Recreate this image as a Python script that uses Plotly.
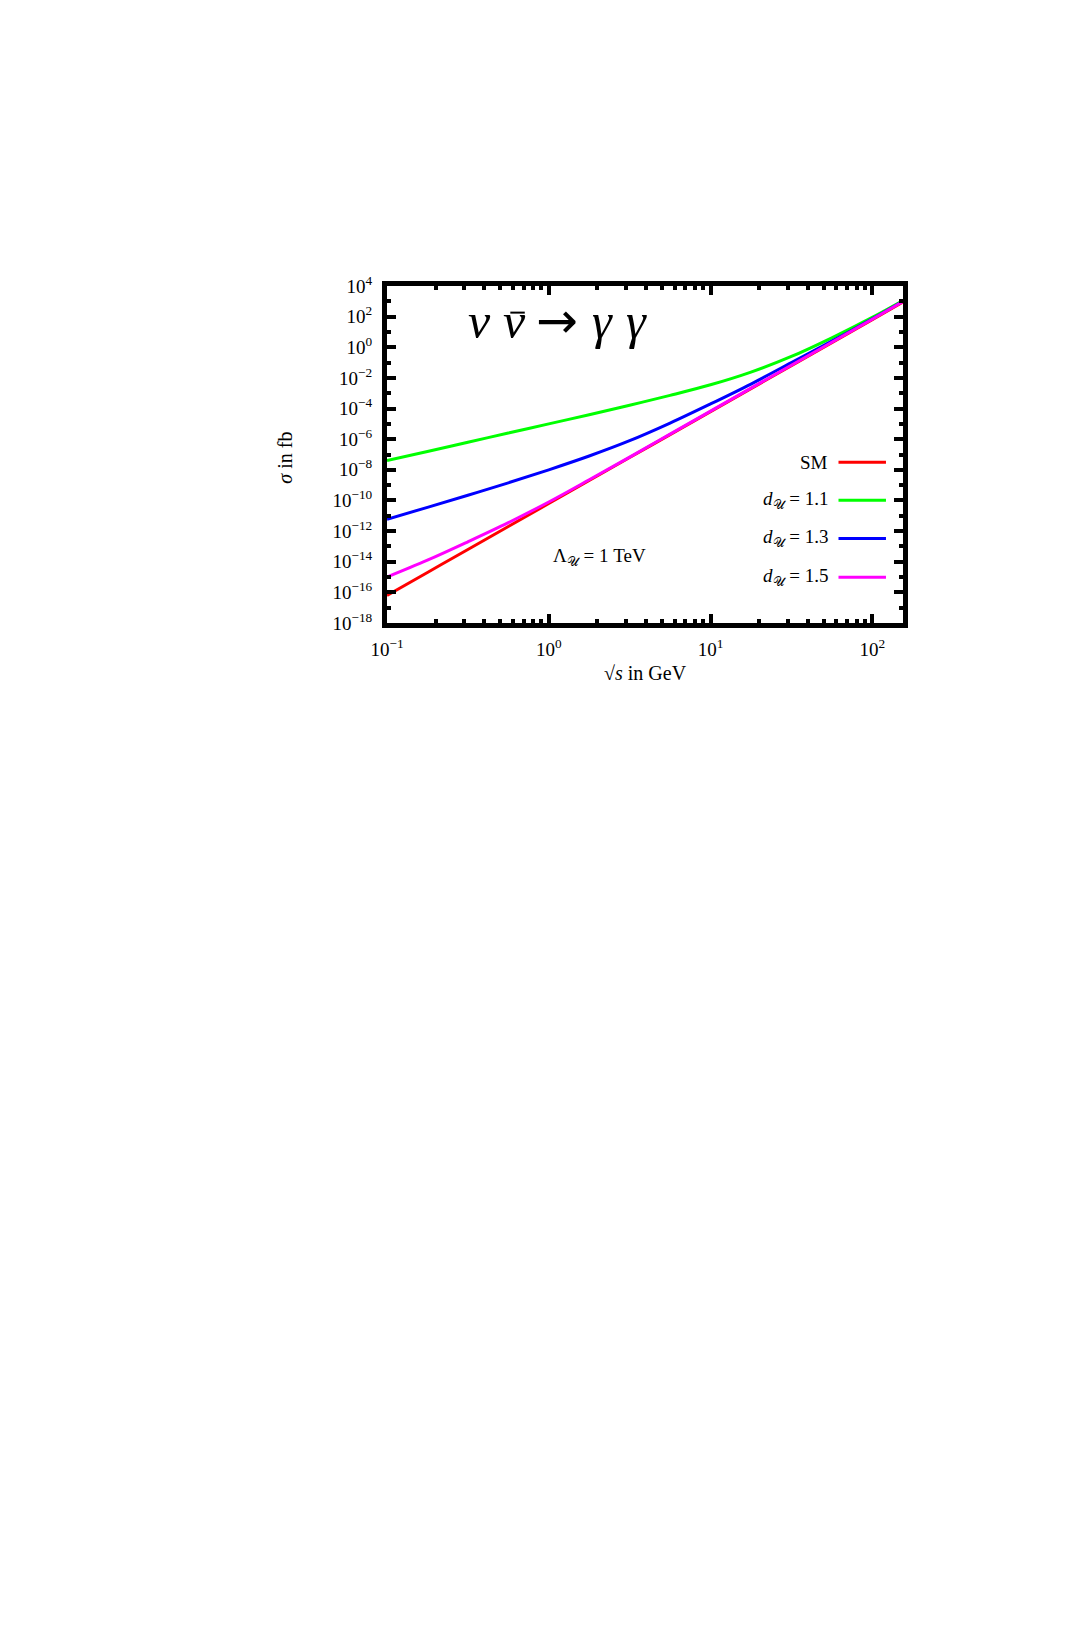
import numpy as np
import plotly.graph_objects as go

# sqrt(s) grid as log10(GeV), cross sections as log10(fb)
log_sqrt_s = [-1.0, -0.75, -0.5, -0.25, 0.0, 0.25, 0.5, 0.75, 1.0, 1.25, 1.5, 1.75, 2.0, 2.19]
log_sigma_sm = [-16.2, -14.7, -13.2, -11.7, -10.2, -8.7, -7.2, -5.7, -4.2, -2.7, -1.2, 0.3, 1.8, 2.95]
log_sigma_d11 = [-7.39, -6.8, -6.2, -5.6, -5.0, -4.4, -3.78, -3.14, -2.45, -1.62, -0.6, 0.62, 1.95, 3.05]
log_sigma_d13 = [-11.23, -10.45, -9.66, -8.85, -8.0, -7.1, -6.1, -4.95, -3.7, -2.4, -1.0, 0.4, 1.85, 3.0]
log_sigma_d15 = [-15.0, -13.9, -12.7, -11.45, -10.1, -8.65, -7.17, -5.67, -4.17, -2.67, -1.17, 0.33, 1.83, 2.98]

series_names = ["SM", "<i>d</i><sub>𝒰</sub> = 1.1", "<i>d</i><sub>𝒰</sub> = 1.3", "<i>d</i><sub>𝒰</sub> = 1.5"]
series_colors = ["#ff0000", "#00ff00", "#0000ff", "#ff00ff"]

x_major = [-1, 0, 1, 2]
x_minor_digits = [2, 3, 4, 5, 6, 7, 8, 9]
y_major = list(range(-18, 5, 2))
y_minor = list(range(-17, 4, 2))

# process label, one glyph at a time: (text, font, size, x position in paper units)
process_glyphs = [("<i>ν</i>", "Liberation Serif", 50, 0.179), ("<i>ν</i>", "Liberation Serif", 50, 0.248),
                  ("→", "DejaVu Sans", 50, 0.329), ("<i>γ</i>", "Liberation Serif", 50, 0.417),
                  ("<i>γ</i>", "Liberation Serif", 50, 0.483)]


def sup(e):
    return "10<sup>" + str(e).replace("-", "−") + "</sup>"


FONT = "Liberation Serif"

x = np.power(10.0, log_sqrt_s)
fig = go.Figure()
for ys, name, col in [(log_sigma_d11, series_names[1], series_colors[1]),
                      (log_sigma_d13, series_names[2], series_colors[2]),
                      (log_sigma_sm, series_names[0], series_colors[0]),
                      (log_sigma_d15, series_names[3], series_colors[3])]:
    fig.add_trace(go.Scatter(x=x, y=np.power(10.0, ys), mode="lines", name=name,
                             line=dict(color=col, width=3, shape="spline", smoothing=1.0),
                             showlegend=False))

x_minor_vals = [d * 10.0 ** e for e in [-1, 0, 1] for d in x_minor_digits] + [200.0]
axis_common = dict(showline=True, linewidth=5, linecolor="black", mirror="ticks",
                   ticks="inside", ticklen=9, tickwidth=4, tickcolor="black",
                   showgrid=False, zeroline=False, type="log",
                   tickfont=dict(family=FONT, size=19, color="black"))
fig.update_xaxes(range=[-1, 2.19], tickvals=[10.0 ** e for e in x_major],
                 ticktext=[sup(e) for e in x_major], ticklabelstandoff=5,
                 minor=dict(ticks="inside", ticklen=4, tickwidth=4, tickcolor="black",
                            tickvals=x_minor_vals, showgrid=False),
                 **axis_common)
fig.update_yaxes(range=[-18, 4], tickvals=[10.0 ** e for e in y_major],
                 ticktext=[sup(e) for e in y_major], ticklabelstandoff=6,
                 minor=dict(ticks="inside", ticklen=4, tickwidth=4, tickcolor="black",
                            tickvals=[10.0 ** e for e in y_minor], showgrid=False),
                 **axis_common)

annotations = [
    dict(x=0.411, y=0.197, text="Λ<sub>𝒰</sub> = 1 TeV", font=dict(family=FONT, size=19, color="black")),
    dict(x=-0.198, y=0.49, text="<i>σ</i> in fb", textangle=-90, font=dict(family=FONT, size=20, color="black")),
    dict(x=0.5, y=-0.147, text="√<i>s</i> in GeV", font=dict(family=FONT, size=20, color="black")),
]
for txt, fam, fsize, gx in process_glyphs:
    annotations.append(dict(x=gx, y=0.897, text=txt,
                            font=dict(family=fam, size=fsize, color="black")))

shapes = [dict(type="line", xref="paper", yref="paper", x0=0.239, x1=0.267, y0=0.921, y1=0.921,
               line=dict(color="black", width=2))]
legend_y = [0.477, 0.364, 0.251, 0.136]
for name, col, ly in zip(series_names, series_colors, legend_y):
    annotations.append(dict(x=0.858, y=ly, text=name, xanchor="right",
                            font=dict(family=FONT, size=19, color="black")))
    shapes.append(dict(type="line", xref="paper", yref="paper", x0=0.875, x1=0.967, y0=ly, y1=ly,
                       line=dict(color=col, width=3)))
for a in annotations:
    a.setdefault("xanchor", "center")
    a.update(xref="paper", yref="paper", showarrow=False, yanchor="middle")

fig.update_layout(
    width=1090, height=1635,
    margin=dict(l=379, r=195, t=278, b=1020),
    paper_bgcolor="white", plot_bgcolor="white",
    annotations=annotations, shapes=shapes,
    showlegend=False,
)
fig.write_html("out.html")
